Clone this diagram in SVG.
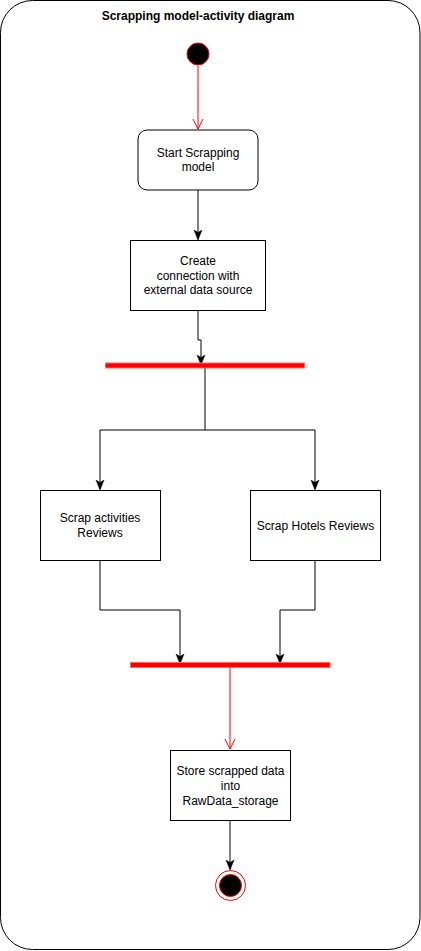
<svg xmlns="http://www.w3.org/2000/svg" width="421" height="951" viewBox="0 0 421 951">
<style>
text{font-family:"Liberation Sans",Arial,sans-serif;font-size:12px;fill:#000;text-anchor:middle}
.title{font-weight:bold}
.box{fill:#fff;stroke:#000;stroke-width:1}
.bar{fill:#ff0000;stroke:#ff6666;stroke-width:1}
.edge{fill:none;stroke:#000;stroke-width:1}
.redge{fill:none;stroke:#ff0000;stroke-width:1}
</style>
<defs>
<marker id="blk" viewBox="0 0 10 10" refX="9" refY="5" markerWidth="10" markerHeight="10" markerUnits="userSpaceOnUse" orient="auto">
<path d="M0,1 L10,5 L0,9 L2.5,5 Z" fill="#000" stroke="#000" stroke-width="0.5"/>
</marker>
<marker id="opn" viewBox="0 0 10 12" refX="10" refY="6" markerWidth="10" markerHeight="12" markerUnits="userSpaceOnUse" orient="auto">
<path d="M0,1 L10,6 L0,11" fill="none" stroke="#ff0000" stroke-width="1"/>
</marker>
</defs>
<rect id="frame" x="0.5" y="0.5" width="419.5" height="949" rx="32" ry="32" fill="#fff" stroke="#000" stroke-width="1"/>
<text class="title" x="198" y="20">Scrapping model-activity diagram</text>
<g id="edges">
<path class="redge" d="M198,66 L198,129" marker-end="url(#opn)"/>
<path class="edge" d="M198,190 L198,239" marker-end="url(#blk)"/>
<path class="edge" d="M198,310 L198,340 L201,340 L201,364" marker-end="url(#blk)"/>
<path class="edge" d="M205,368 L205,430 L100,430 L100,489" marker-end="url(#blk)"/>
<path class="edge" d="M205,430 L315,430 L315,489" marker-end="url(#blk)"/>
<path class="edge" d="M100,560 L100,610 L180,610 L180,663" marker-end="url(#blk)"/>
<path class="edge" d="M315,560 L315,610 L280,610 L280,663" marker-end="url(#blk)"/>
<path class="redge" d="M230,668 L230,749" marker-end="url(#opn)"/>
<path class="edge" d="M230,820 L230,869" marker-end="url(#blk)"/>
</g>
<g id="start">
<circle cx="198" cy="54" r="11" fill="#000" stroke="#ff0000" stroke-width="1"/>
</g>
<g id="startScrapping">
<rect class="box" x="138" y="130" width="120" height="60" rx="9" ry="9"/>
<text x="198" y="157">Start Scrapping</text>
<text x="198" y="171">model</text>
</g>
<g id="createConnection">
<rect class="box" x="130.5" y="240.5" width="135" height="70"/>
<text x="198" y="265">Create</text>
<text x="198" y="279.5">connection with</text>
<text x="198" y="294">external data source</text>
</g>
<g id="fork">
<rect class="bar" x="105.5" y="363" width="199" height="5"/>
</g>
<g id="scrapActivities">
<rect class="box" x="40.5" y="490.5" width="120" height="70"/>
<text x="100" y="522">Scrap activities</text>
<text x="100" y="537">Reviews</text>
</g>
<g id="scrapHotels">
<rect class="box" x="250.5" y="490.5" width="130" height="70"/>
<text x="315.5" y="530">Scrap Hotels Reviews</text>
</g>
<g id="join">
<rect class="bar" x="130.5" y="662.5" width="199.5" height="5"/>
</g>
<g id="store">
<rect class="box" x="170.5" y="750.5" width="120" height="70"/>
<text x="230.5" y="775">Store scrapped data</text>
<text x="230.5" y="790">into</text>
<text x="230.5" y="804.5">RawData_storage</text>
</g>
<g id="end">
<circle cx="230.5" cy="885.5" r="15" fill="none" stroke="#ff0000" stroke-width="1"/>
<circle cx="230.5" cy="885.5" r="11" fill="#000" stroke="#ff0000" stroke-width="1"/>
</g>
</svg>
